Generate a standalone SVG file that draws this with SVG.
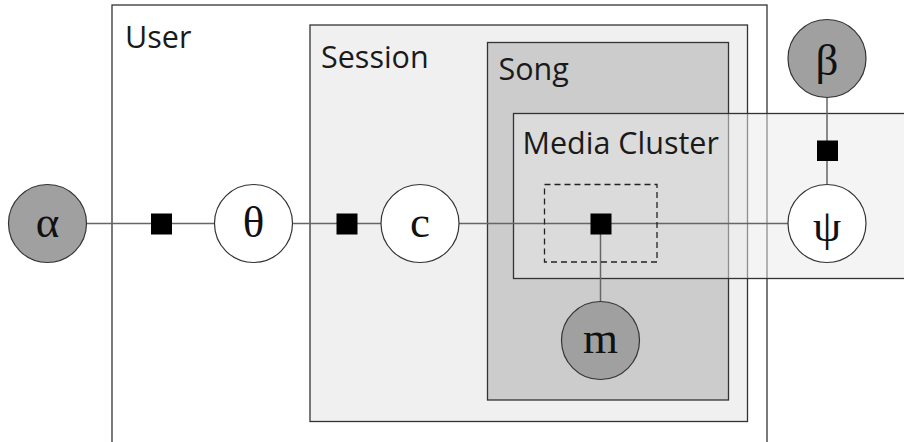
<svg xmlns="http://www.w3.org/2000/svg" width="904" height="442" viewBox="0 0 904 442">
  <style>
    .plate { stroke: #333; stroke-width: 1.3; }
    .plabel { font-family: "Open Sans", "Noto Sans", sans-serif; font-size: 30.5px; fill: #1a1a1a; }
    .edge { stroke: #666; stroke-width: 1.5; fill: none; }
    .var { stroke: #333; stroke-width: 1.2; }
    .obs { fill: #a0a0a0; }
    .lat { fill: #ffffff; }
    .sym { font-family: "Liberation Serif", "Times New Roman", serif; font-size: 45px; fill: #111; text-anchor: middle; dominant-baseline: central; }
    .factor { fill: #000; }
  </style>

  <rect x="0" y="0" width="904" height="442" fill="#ffffff"/>

  <!-- plates -->
  <g id="plate-user">
    <rect class="plate" x="112" y="5" width="655" height="445" fill="#ffffff"/>
    <text class="plabel" x="125" y="48">User</text>
  </g>
  <g id="plate-session">
    <rect class="plate" x="310" y="25" width="437.5" height="396.5" fill="#f0f0f0"/>
    <text class="plabel" x="321" y="68">Session</text>
  </g>
  <g id="plate-song">
    <rect class="plate" x="487.5" y="42.5" width="241" height="357.5" fill="#cccccc"/>
    <text class="plabel" x="498.5" y="80">Song</text>
  </g>
  <g id="plate-media-cluster">
    <rect class="plate" x="513.5" y="113.5" width="400" height="165" fill="#eaeaea" fill-opacity="0.5"/>
    <text class="plabel" x="522.5" y="153.5">Media Cluster</text>
  </g>

  <!-- connectors -->
  <g id="connectors">
    <line class="edge" x1="86" y1="223.5" x2="788" y2="223.5"/>
    <line class="edge" x1="600.5" y1="224" x2="600.5" y2="301"/>
    <line class="edge" x1="827" y1="97" x2="827" y2="184"/>
    <rect x="544.5" y="184.5" width="112.5" height="77.5" fill="none" stroke="#222" stroke-width="1.3" stroke-dasharray="6,4"/>
  </g>

  <!-- factors -->
  <g id="factor-alpha-theta"><rect class="factor" x="151" y="213.5" width="21" height="21"/></g>
  <g id="factor-theta-c"><rect class="factor" x="336.5" y="213.5" width="21" height="21"/></g>
  <g id="factor-media"><rect class="factor" x="590.5" y="213.5" width="21" height="21"/></g>
  <g id="factor-beta-psi"><rect class="factor" x="817" y="140.5" width="21" height="20.5"/></g>

  <!-- variables -->
  <g id="node-alpha">
    <circle class="var obs" cx="47.5" cy="223.5" r="39"/>
    <text class="sym" x="47.5" y="222">α</text>
  </g>
  <g id="node-theta">
    <circle class="var lat" cx="253.5" cy="223.5" r="39"/>
    <text class="sym" x="253.5" y="222">θ</text>
  </g>
  <g id="node-c">
    <circle class="var lat" cx="420" cy="223.5" r="39"/>
    <text class="sym" x="420" y="222">c</text>
  </g>
  <g id="node-psi">
    <circle class="var lat" cx="827" cy="223.5" r="39"/>
    <text class="sym" x="827" y="226">ψ</text>
  </g>
  <g id="node-beta">
    <circle class="var obs" cx="827" cy="58.5" r="39"/>
    <text class="sym" x="827" y="60">β</text>
  </g>
  <g id="node-m">
    <circle class="var obs" cx="600.5" cy="340.5" r="39"/>
    <text class="sym" x="600.5" y="338">m</text>
  </g>
</svg>
